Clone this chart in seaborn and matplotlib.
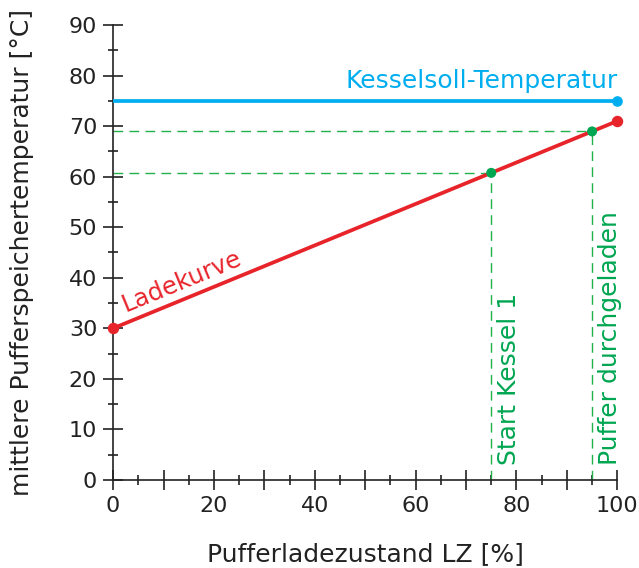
import matplotlib
matplotlib.use('Agg')
import matplotlib.pyplot as plt
import numpy as np
import pandas as pd
import seaborn as sns

COLOR_RED = "#E8242B"
COLOR_BLUE = "#00AEEF"
COLOR_GREEN = "#00A651"
COLOR_DASH = "#22B24C"
COLOR_AXIS = "#222222"

# data
lz = [0, 100]                 # Pufferladezustand [%]
ladekurve = [30, 71]          # mittlere Temperatur [°C]
kessel_soll = [75, 75]
marker_lz = [75, 95]
marker_temp = [60.75, 68.95]
marker_labels = ["Start Kessel 1", "Puffer durchgeladen"]

sns.set_theme(style="ticks")
plt.rcParams['font.family'] = ['DejaVu Sans']

fig = plt.figure(figsize=(6.39, 5.68), dpi=100)
ax = fig.add_axes([0.177, 0.155, 0.789, 0.801])

# green helper lines
for x, y in zip(marker_lz, marker_temp):
    ax.plot([0, x], [y, y], color=COLOR_DASH, lw=1.0, ls=(0, (7, 4.5)), zorder=1)
    ax.plot([x, x], [0, y], color=COLOR_DASH, lw=1.0, ls=(0, (7, 4.5)), zorder=1)

df_lade = pd.DataFrame({'lz': lz, 'temp': ladekurve})
df_soll = pd.DataFrame({'lz': lz, 'temp': kessel_soll})
sns.lineplot(data=df_soll, x='lz', y='temp', color=COLOR_BLUE, lw=2.7, ax=ax, zorder=3)
sns.lineplot(data=df_lade, x='lz', y='temp', color=COLOR_RED, lw=2.7, ax=ax, zorder=3)

ax.scatter([lz[1]], [kessel_soll[1]], s=44, color=COLOR_BLUE, zorder=5, clip_on=False)
ax.scatter(lz, ladekurve, s=52, color=COLOR_RED, zorder=5, clip_on=False)
sns.scatterplot(x=marker_lz, y=marker_temp, s=52, color=COLOR_GREEN, edgecolor='none', ax=ax, zorder=6)

ax.text(100, 77.5, "Kesselsoll-Temperatur", color=COLOR_BLUE, fontsize=18,
        ha='right', va='baseline')
ax.text(2.4, 33.3, "Ladekurve", color=COLOR_RED, fontsize=17.5, rotation=22.3,
        rotation_mode='anchor', ha='left', va='baseline')
for x, lab in zip(marker_lz, marker_labels):
    ax.text(x + 1.1, 3.0, lab, color=COLOR_GREEN, fontsize=18, rotation=90,
            ha='left', va='bottom')

ax.set_xlim(0, 100)
ax.set_ylim(0, 90)
ax.set_xticks(np.arange(0, 101, 10))
ax.set_xticklabels([str(v) if v % 20 == 0 else '' for v in range(0, 101, 10)])
ax.set_xticks(np.arange(5, 100, 10), minor=True)
ax.set_yticks(np.arange(0, 91, 10))
ax.set_yticks(np.arange(5, 90, 10), minor=True)

ax.tick_params(which='major', direction='inout', length=14, width=1.2, color=COLOR_AXIS,
               labelsize=16, labelcolor=COLOR_AXIS, pad=4.5)
ax.tick_params(which='minor', direction='inout', length=6.5, width=1.2, color=COLOR_AXIS)
for s in ['top', 'right']:
    ax.spines[s].set_visible(False)
for s in ['left', 'bottom']:
    ax.spines[s].set_linewidth(1.2)
    ax.spines[s].set_color(COLOR_AXIS)

ax.set_xlabel("Pufferladezustand LZ [%]", fontsize=18, color=COLOR_AXIS, labelpad=19)
ax.set_ylabel("mittlere Pufferspeichertemperatur [°C]", fontsize=18, color=COLOR_AXIS, labelpad=25)

fig.savefig("out.png", dpi=100)
